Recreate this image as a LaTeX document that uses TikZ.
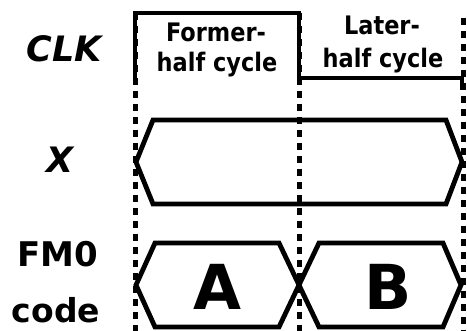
\documentclass[tikz,border=0pt]{standalone}
\usepackage{fontspec}
\setmainfont{DejaVu Sans}
\newfontfamily\narrowsans[FakeStretch=0.88]{DejaVu Sans}
\begin{document}
\begin{tikzpicture}[x=1pt,y=-1pt,
  wave/.style={line width=4.8pt,line join=miter,line cap=rect},
  guide/.style={line width=5pt,dash pattern=on 7pt off 6pt},
  lbl/.style={font=\bfseries\itshape\fontsize{35}{40}\selectfont,anchor=base,inner sep=0pt},
  lblu/.style={font=\bfseries\fontsize{34}{40}\selectfont,anchor=base,inner sep=0pt},
  half/.style={font=\narrowsans\bfseries\fontsize{25.5}{28}\selectfont,anchor=base,inner sep=0pt},
  big/.style={font=\bfseries\fontsize{62}{70}\selectfont,anchor=base,inner sep=0pt}]
\useasboundingbox (0,0) rectangle (467,331);
% guide lines
\coordinate (g1t) at (135,13); \coordinate (g1b) at (135,331);
\coordinate (g2t) at (299,13); \coordinate (g2b) at (299,331);
\coordinate (g3t) at (463,18); \coordinate (g3b) at (463,331);
\draw[guide] (g1t) -- (g1b);
\draw[guide] (g2t) -- (g2b);
\draw[guide] (g3t) -- (g3b);
% CLK
\draw[wave] (135,82) -- (135,13) -- (299,13) -- (299,78) -- (462,78) -- (462,88);
% X bus
\draw[wave] (136,162) -- (153,120) -- (446,120) -- (462,162) -- (446,204) -- (153,204) -- cycle;
% FM0 A and B
\draw[wave] (136,285) -- (155,243) -- (279,243) -- (299,285) -- (279,327) -- (155,327) -- cycle;
\draw[wave] (299,285) -- (319,243) -- (443,243) -- (461,285) -- (443,327) -- (319,327) -- cycle;
% labels
\node[lbl] (clk) at (64,62) {CLK};
\node[lbl] (x) at (60,173) {X};
\node[lblu] (fm) at (58,267) {FM0};
\node[font=\bfseries\fontsize{33}{40}\selectfont,anchor=base,inner sep=0pt] (code) at (56,323) {code};
\node[half] (f1) at (216,42) {Former-};
\node[half] (f2) at (217,72) {half cycle};
\node[half] (l1) at (382,35) {Later-};
\node[half] (l2) at (383,68) {half cycle};
\node[big] (a) at (217,310) {A};
\node[big] (b) at (388,310) {B};
\end{tikzpicture}
\end{document}
